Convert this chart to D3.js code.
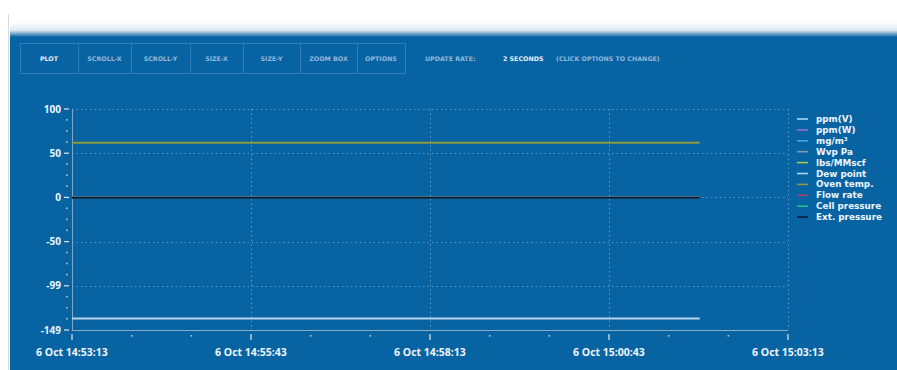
<!DOCTYPE html>
<html>
<head>
<meta charset="utf-8">
<script src="https://cdn.jsdelivr.net/npm/d3@7"></script>
<style>
  html, body { margin: 0; padding: 0; background: #fff; }
  svg { display: block; font-family: "Open Sans", "DejaVu Sans", sans-serif; }
</style>
</head>
<body>
<svg id="chart" width="897" height="370"></svg>
<script>
// toolbar
var buttons = ["PLOT", "SCROLL-X", "SCROLL-Y", "SIZE-X", "SIZE-Y", "ZOOM BOX", "OPTIONS"];
var buttonEdges = [20, 78, 131, 190, 243, 300, 357, 405];

// series (all flat over the shown period)
var seriesNames = ["ppm(V)", "ppm(W)", "mg/m\u00b3", "Wvp Pa", "lbs/MMscf", "Dew point", "Oven temp.", "Flow rate", "Cell pressure", "Ext. pressure"];
var seriesColors = ["#a8d4f2", "#9a6cc8", "#3aa8e8", "#8a96a4", "#a8c83c", "#b4d4ec", "#8e9a3c", "#a8406a", "#22c08a", "#071a3c"];
var seriesStart = [0, 0, 0, 0, 0, -136, 62, 0, 0, 0];
var seriesEnd = [0, 0, 0, 0, 0, -136, 62, 0, 0, 0];
var sampleTimes = ["2015-10-06 14:53:13", "2015-10-06 15:01:59"];

// axes
var xDomain = ["2015-10-06 14:53:13", "2015-10-06 15:03:13"];
var xMajorStep = 150; // seconds
var xMinorStep = 50;
var yDomain = [-149, 100];
var yTicks = [100, 50.2, 0.4, -49.4, -99.2, -149];
var yTickLabels = ["100", "50", "0", "-50", "-99", "-149"];

var parse = d3.timeParse("%Y-%m-%d %H:%M:%S");
var svg = d3.select("#chart");

// background: white top fading into the blue panel
var defs = svg.append("defs");
var grad = defs.append("linearGradient").attr("id", "topfade").attr("x1", 0).attr("y1", 0).attr("x2", 0).attr("y2", 1);
grad.append("stop").attr("offset", "0%").attr("stop-color", "#ffffff");
grad.append("stop").attr("offset", "55%").attr("stop-color", "#dfe9f2");
grad.append("stop").attr("offset", "100%").attr("stop-color", "#0863a3");

svg.append("rect").attr("x", 0).attr("y", 0).attr("width", 897).attr("height", 370).attr("fill", "#ffffff");
svg.append("rect").attr("x", 10).attr("y", 36).attr("width", 887).attr("height", 334).attr("fill", "#0863a3");
svg.append("rect").attr("x", 10).attr("y", 22).attr("width", 887).attr("height", 15).attr("fill", "url(#topfade)");
svg.append("line").attr("x1", 8.5).attr("x2", 8.5).attr("y1", 14).attr("y2", 370)
  .attr("stroke", "#d4d8dc").attr("stroke-width", 1);

// toolbar buttons
var bar = svg.append("g").attr("font-family", "DejaVu Sans, sans-serif").attr("font-size", 6.3).attr("font-weight", 700);
bar.append("rect").attr("x", 20.5).attr("y", 43.5).attr("width", 385).attr("height", 30)
  .attr("fill", "none").attr("stroke", "#2f7cb8").attr("stroke-width", 1);
bar.selectAll("line.sep").data(buttonEdges.slice(1, -1)).enter().append("line")
  .attr("x1", function (d) { return d + 0.5; }).attr("x2", function (d) { return d + 0.5; })
  .attr("y1", 43.5).attr("y2", 73.5).attr("stroke", "#2f7cb8");
bar.selectAll("text").data(buttons).enter().append("text")
  .attr("x", function (d, i) { return (buttonEdges[i] + buttonEdges[i + 1]) / 2; })
  .attr("y", 60.5)
  .attr("text-anchor", "middle")
  .attr("fill", function (d, i) { return i === 0 ? "#e4f0fa" : "#8fb9dd"; })
  .text(function (d) { return d; });
bar.append("text").attr("x", 425).attr("y", 60.5).attr("fill", "#8fb9dd").text("UPDATE RATE:");
bar.append("text").attr("x", 503).attr("y", 60.5).attr("fill", "#e4f0fa").text("2 SECONDS");
bar.append("text").attr("x", 556).attr("y", 60.5).attr("fill", "#8fb9dd").text("(CLICK OPTIONS TO CHANGE)");

// scales
var x = d3.scaleTime().domain(xDomain.map(parse)).range([72, 788]);
var y = d3.scaleLinear().domain(yDomain).range([330, 109]);

var plot = svg.append("g");
var t0 = +x.domain()[0], span = (x.domain()[1] - x.domain()[0]) / 1000;
var xMajor = d3.range(0, span + 1, xMajorStep).map(function (s) { return new Date(t0 + s * 1000); });
var xMinor = d3.range(0, span + 1, xMinorStep)
  .filter(function (s) { return s % xMajorStep !== 0; })
  .map(function (s) { return new Date(t0 + s * 1000); });

// grid
plot.selectAll("line.hgrid").data(yTicks.slice(0, -1)).enter().append("line")
  .attr("x1", 72).attr("x2", 788)
  .attr("y1", function (d) { return Math.round(y(d)) + 0.5; })
  .attr("y2", function (d) { return Math.round(y(d)) + 0.5; })
  .attr("stroke", "#5f98c4").attr("stroke-width", 1).attr("stroke-dasharray", "1.5,3");
plot.selectAll("line.vgrid").data(xMajor.slice(1)).enter().append("line")
  .attr("x1", function (d) { return Math.round(x(d)) + 0.5; })
  .attr("x2", function (d) { return Math.round(x(d)) + 0.5; })
  .attr("y1", 109).attr("y2", 330)
  .attr("stroke", "#5f98c4").attr("stroke-width", 1).attr("stroke-dasharray", "1.5,3");

// axis lines
plot.append("line").attr("x1", 72.5).attr("x2", 72.5).attr("y1", 109).attr("y2", 330)
  .attr("stroke", "#7fa6c2").attr("stroke-width", 1);
plot.append("line").attr("x1", 72).attr("x2", 788).attr("y1", 330.5).attr("y2", 330.5)
  .attr("stroke", "#8aaec8").attr("stroke-width", 1);

// y ticks
var yMinor = [];
for (var i = 0; i < yTicks.length - 1; i++) {
  for (var k = 1; k < 4; k++) yMinor.push(yTicks[i] + (yTicks[i + 1] - yTicks[i]) * k / 4);
}
plot.selectAll("line.ymaj").data(yTicks).enter().append("line")
  .attr("x1", 64).attr("x2", 69)
  .attr("y1", function (d) { return y(d); }).attr("y2", function (d) { return y(d); })
  .attr("stroke", "#d8e8f4").attr("stroke-width", 1.2);
plot.selectAll("rect.ymin").data(yMinor).enter().append("rect")
  .attr("x", 66).attr("y", function (d) { return y(d) - 1; })
  .attr("width", 1.6).attr("height", 1.6).attr("fill", "#a8c8e0");
plot.selectAll("text.ylab").data(yTicks).enter().append("text")
  .attr("x", 61).attr("y", function (d) { return y(d); }).attr("dy", "0.35em")
  .attr("text-anchor", "end").attr("font-size", 10).attr("font-weight", 700)
  .attr("fill", "#eef6fc")
  .text(function (d, i) { return yTickLabels[i]; });

// x ticks
plot.selectAll("line.xmaj").data(xMajor).enter().append("line")
  .attr("x1", function (d) { return x(d); }).attr("x2", function (d) { return x(d); })
  .attr("y1", 334).attr("y2", 340)
  .attr("stroke", "#d8e8f4").attr("stroke-width", 1.2);
plot.selectAll("rect.xmin").data(xMinor).enter().append("rect")
  .attr("x", function (d) { return x(d) - 0.8; }).attr("y", 335)
  .attr("width", 1.6).attr("height", 1.6).attr("fill", "#a8c8e0");
var fmt = d3.timeFormat("%-d %b %H:%M:%S");
plot.selectAll("text.xlab").data(xMajor).enter().append("text")
  .attr("x", function (d) { return x(d); }).attr("y", 352).attr("dy", "0.35em")
  .attr("text-anchor", "middle").attr("font-size", 10.5).attr("font-weight", 700)
  .attr("fill", "#eef6fc")
  .text(function (d) { return fmt(d); });

// series lines
var line = d3.line().x(function (d) { return x(d.t); }).y(function (d) { return y(d.v); });
var series = seriesNames.map(function (name, i) {
  return {
    name: name, color: seriesColors[i],
    points: [{ t: parse(sampleTimes[0]), v: seriesStart[i] }, { t: parse(sampleTimes[1]), v: seriesEnd[i] }]
  };
});
plot.selectAll("path.series").data(series).enter().append("path")
  .attr("d", function (d) { return line(d.points); })
  .attr("fill", "none")
  .attr("stroke", function (d) { return d.color; })
  .attr("stroke-width", 2);

// legend
var legend = svg.append("g").attr("transform", "translate(797,119)");
var item = legend.selectAll("g").data(series).enter().append("g")
  .attr("transform", function (d, i) { return "translate(0," + (i * 10.9) + ")"; });
item.append("line").attr("x1", 0).attr("x2", 11).attr("y1", 0).attr("y2", 0)
  .attr("stroke", function (d) { return d.color; }).attr("stroke-width", 1.6);
item.append("text").attr("x", 19).attr("y", 0).attr("dy", "0.35em")
  .attr("font-family", "DejaVu Sans, sans-serif")
  .attr("font-size", 8.8).attr("font-weight", 700).attr("fill", "#eef6fc")
  .text(function (d) { return d.name; });
</script>
</body>
</html>
